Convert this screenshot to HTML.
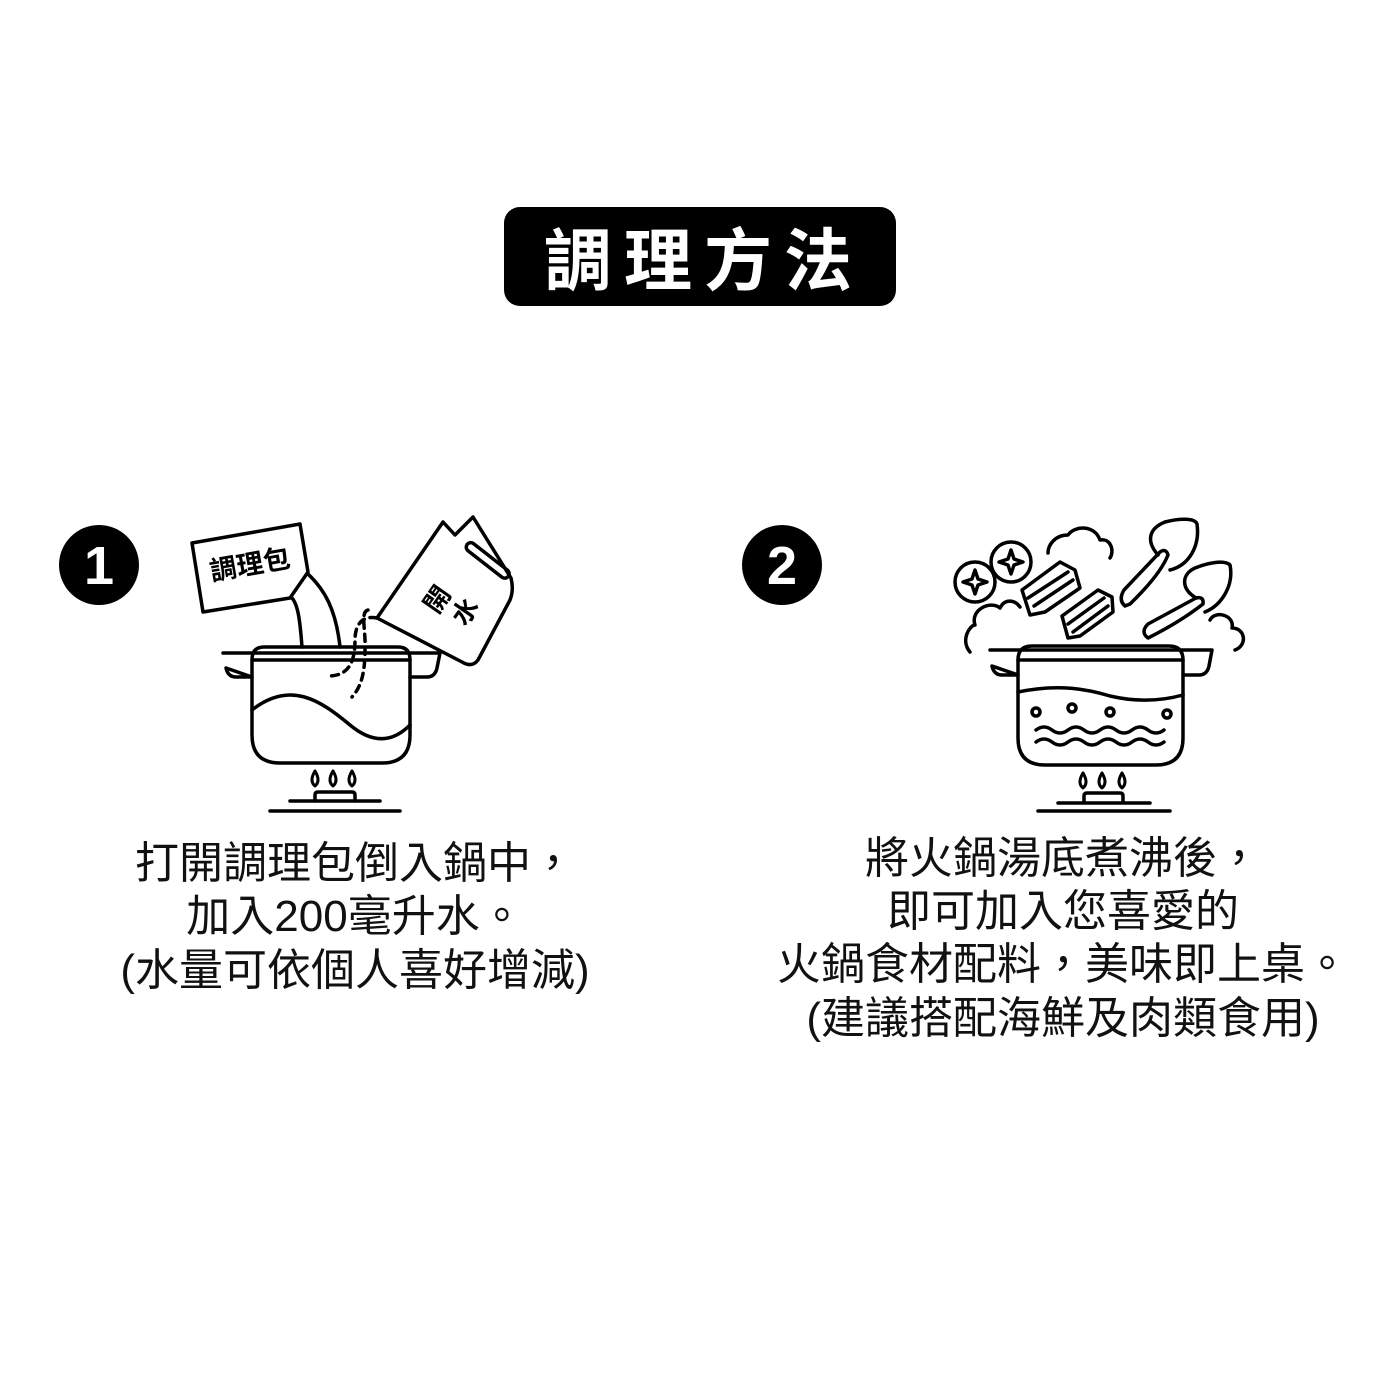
<!DOCTYPE html>
<html><head><meta charset="utf-8"><style>
body{margin:0;background:#fff;}
svg{display:block}
text{font-family:"Liberation Sans","Noto Sans CJK TC",sans-serif;}
</style></head><body>
<svg width="1400" height="1400" viewBox="0 0 1400 1400" xmlns="http://www.w3.org/2000/svg">
<rect x="504" y="207" width="392" height="99" rx="16" fill="#000"/>
<text x="704" y="285" font-size="68" font-weight="bold" fill="#fff" text-anchor="middle" letter-spacing="12">調理方法</text>
<circle cx="99" cy="565" r="40" fill="#000"/>
<text x="99" y="584" font-size="54" font-weight="bold" fill="#fff" text-anchor="middle">1</text>
<circle cx="782" cy="565" r="40" fill="#000"/>
<text x="782" y="584" font-size="54" font-weight="bold" fill="#fff" text-anchor="middle">2</text>

<g fill="none" stroke="#000" stroke-width="3.5" stroke-linejoin="round" stroke-linecap="round">
<!-- pot 1 -->
<path d="M302 647 C300 620 298 605 292 598 M340 647 C336 610 325 590 308 574"/>
<path d="M192 543 L300 524 L308 572 L290 598 L203 612 Z" fill="#fff"/>
<path d="M377 618 L443 522 L455 535 L473 517 L511 578 Q514 590 510 600 L478 660 Q472 668 462 662 Z" fill="#fff"/>
<rect x="462" y="556" width="52" height="9" rx="4.5" transform="rotate(38 488 560)"/>
<path d="M377 618 C362 615 355 625 355 640 C355 660 350 675 330 676 M368 610 C360 612 366 630 365 650 C365 680 358 690 352 697" stroke-dasharray="7 6"/>
<path d="M223 653 H440 L437 668 Q435 677 427 677 H410 M252 677 H236 Q228 677 226 668 Z"/>
<path d="M252 660 Q252 647 264 647 H398 Q410 647 410 660 V735 Q410 763 382 763 H280 Q252 763 252 735 Z"/>
<path d="M252 660 H410"/>
<path d="M252 710 C290 680 320 700 350 725 C380 750 400 735 410 725"/>
<path d="M315 771 Q309 781 315 786 Q321 781 315 771 M333 771 Q327 781 333 786 Q339 781 333 771 M352 771 Q346 781 352 786 Q358 781 352 771" stroke-width="3"/>
<path d="M315 801 V795 Q315 792 318 792 H352 Q355 792 355 795 V801"/>
<path d="M290 801 H380 M270 811 H400"/>
<!-- pot 2 -->
<path d="M990 650 H1212 L1209 666 Q1207 675 1199 675 H1183 M1018 675 H1002 Q994 675 992 666 Z"/>
<path d="M1018 660 Q1018 646 1032 646 H1169 Q1183 646 1183 660 V738 Q1183 765 1156 765 H1045 Q1018 765 1018 738 Z"/>
<path d="M1018 660 H1183"/>
<path d="M1018 692 C1060 683 1090 690 1110 696 C1140 703 1165 700 1183 695"/>
<circle cx="1036" cy="712" r="4"/><circle cx="1072" cy="708" r="4"/><circle cx="1110" cy="712" r="4"/><circle cx="1167" cy="714" r="4"/>
<path d="M1036 730 q8 -6 16 0 t16 0 t16 0 t16 0 t16 0 t16 0 t16 0 t16 0 M1036 742 q8 -6 16 0 t16 0 t16 0 t16 0 t16 0 t16 0 t16 0 t16 0"/>
<path d="M1083 773 Q1077 783 1083 788 Q1089 783 1083 773 M1102 773 Q1096 783 1102 788 Q1108 783 1102 773 M1122 773 Q1116 783 1122 788 Q1128 783 1122 773" stroke-width="3"/>
<path d="M1084 802 V796 Q1084 793 1087 793 H1120 Q1123 793 1123 796 V802"/>
<path d="M1058 803 H1150 M1038 811 H1170"/>
<!-- steam -->
<path d="M970 652 C960 640 970 625 975 625 C970 610 990 600 1000 608 C1005 598 1015 600 1020 607"/>
<path d="M1048 553 C1048 545 1055 535 1068 535 C1075 525 1095 525 1100 540 C1110 538 1115 550 1110 558"/>
<path d="M1210 620 C1215 610 1235 615 1232 628 C1245 628 1248 645 1235 650"/>
<!-- items -->
<circle cx="975" cy="582" r="20"/><circle cx="1011" cy="562" r="20"/>
<path d="M975 570 L978 579 L987 582 L978 585 L975 594 L972 585 L963 582 L972 579 Z"/>
<path d="M1011 550 L1014 559 L1023 562 L1014 565 L1011 574 L1008 565 L999 562 L1008 559 Z"/>
<path d="M1022 590 L1060 562 L1075 570 L1080 588 L1045 612 L1030 615 Z M1028 598 L1068 572 M1034 606 L1073 580"/>
<path d="M1062 616 L1098 590 L1112 597 L1113 612 L1080 636 L1068 638 Z M1068 624 L1104 598 M1073 632 L1108 606"/>
<path d="M1125 606 Q1118 600 1124 590 L1160 552 Q1166 548 1168 555 Q1160 575 1130 604 Z"/>
<path d="M1158 555 C1145 540 1150 528 1165 522 C1180 518 1195 518 1197 524 C1200 545 1190 565 1170 570"/>
<path d="M1148 638 Q1140 632 1148 624 L1196 598 Q1204 596 1203 604 Q1180 622 1148 638 Z"/>
<path d="M1196 598 C1180 588 1182 574 1195 568 C1210 562 1225 560 1230 565 C1234 585 1222 605 1205 612"/>
</g>

<g font-size="44" fill="#111" text-anchor="middle">
<text x="355" y="878">打開調理包倒入鍋中，</text>
<text x="355" y="931">加入200毫升水。</text>
<text x="355" y="985">(水量可依個人喜好增減)</text>
<text x="1063" y="873">將火鍋湯底煮沸後，</text>
<text x="1063" y="926">即可加入您喜愛的</text>
<text x="1063" y="979">火鍋食材配料，美味即上桌。</text>
<text x="1063" y="1033">(建議搭配海鮮及肉類食用)</text>
</g>
<text x="250" y="574" font-size="27" font-weight="bold" text-anchor="middle" transform="rotate(-10 250 565)">調理包</text>
<g font-size="26" font-weight="bold" text-anchor="middle">
<text x="438" y="608" transform="rotate(-55 438 600)">開</text>
<text x="466" y="620" transform="rotate(-55 466 612)">水</text>
</g>
</svg>
</body></html>
